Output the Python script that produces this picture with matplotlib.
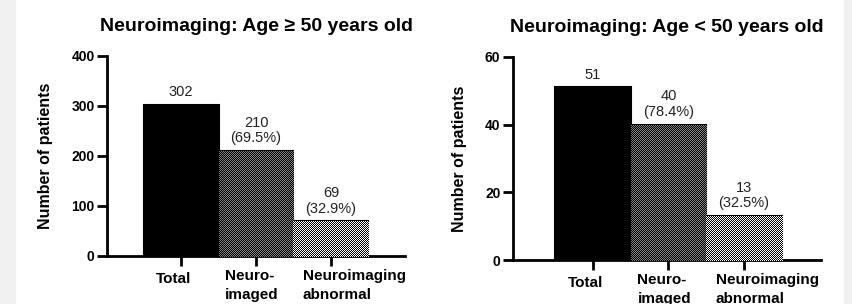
import matplotlib.pyplot as plt
import numpy as np
from matplotlib.patches import Rectangle
from matplotlib.transforms import ScaledTranslation, blended_transform_factory

plt.rcParams["font.family"] = ["Liberation Sans", "DejaVu Sans"]

categories = ["Total", "Neuro-\nimaged", "Neuroimaging\nabnormal"]

old_counts = [302, 210, 69]
old_labels = ["302", "210\n(69.5%)", "69\n(32.9%)"]

young_counts = [51, 40, 13]
young_labels = ["51", "40\n(78.4%)", "13\n(32.5%)"]

# pixel checkerboard textures (dark / light cells) for bars 2 and 3
textures = [None, (0.0, 0.5), (0.0, 1.0)]
label_left = [-25, -31, -28]  # px from tick to left edge of label
label_drop = [23, 29.5, 29.5]  # px below the axis to label centre

W, H = 852, 304
fig = plt.figure(figsize=(W / 100, H / 100), dpi=100)
fig.patch.set_facecolor("white")
fig.patches.append(Rectangle((0, 0), 15 / W, 1, transform=fig.transFigure,
                             color="#f0f0f0", zorder=-1))
fig.patches.append(Rectangle((844 / W, 0), 8 / W, 1, transform=fig.transFigure,
                             color="#f0f0f0", zorder=-1))

yy, xx = np.mgrid[0:H, 0:W]
checker = (xx + yy) % 2


def panel(ax, counts, labels, title, ymax, step, xlim):
    for i, v in enumerate(counts):
        b = ax.bar(i, v, width=1.0, color="black", linewidth=0, zorder=2)[0]
        if textures[i] is not None:
            lo, hi = textures[i]
            img = np.where(checker == 1, hi, lo)
            rgb = np.dstack([img, img, img])
            im = fig.figimage(rgb, 0, 0, origin="lower", zorder=2.5)
            im.set_interpolation("nearest")
            im.set_clip_path(b)
        ax.bar(i, v, width=1.0, fill=False, edgecolor="black", linewidth=1.5, zorder=3)
        ax.annotate(labels[i], (i, v), xytext=(0, 4), textcoords="offset points",
                    ha="center", va="bottom", fontsize=10.5, color="#222222",
                    linespacing=1.15)
    ax.set_xlim(*xlim)
    ax.set_ylim(0, ymax)
    ax.set_yticks(range(0, ymax + 1, step))
    ax.set_xticks(range(len(counts)))
    ax.set_xticklabels([])
    trans = blended_transform_factory(ax.transData, ax.transAxes)
    for i, cat in enumerate(categories):
        off = ScaledTranslation(label_left[i] / 100, -label_drop[i] / 100, fig.dpi_scale_trans)
        ax.text(i, 0, cat, fontweight="bold", fontsize=11, ha="left", va="center",
                linespacing=1.45, transform=trans + off)
    for lab in ax.get_yticklabels():
        lab.set_fontweight("bold")
        lab.set_fontsize(10)
    ax.spines["top"].set_visible(False)
    ax.spines["right"].set_visible(False)
    ax.spines["left"].set_linewidth(2)
    ax.spines["bottom"].set_linewidth(2)
    ax.tick_params(axis="both", width=2, length=7, pad=2)
    ax.set_ylabel("Number of patients", fontweight="bold", fontsize=11.5, labelpad=13)
    ax.set_title(title, fontweight="bold", fontsize=14, pad=18)


ax1 = fig.add_axes([0.1256, 0.158, 0.3498, 0.658])
panel(ax1, old_counts, old_labels, "Neuroimaging: Age \u2265 50 years old",
      400, 100, (-0.99, 2.99))

ax2 = fig.add_axes([0.602, 0.1447, 0.3616, 0.6678])
panel(ax2, young_counts, young_labels, "Neuroimaging: Age < 50 years old",
      60, 20, (-1.06, 3.02))

fig.savefig("out.png", dpi=100)
